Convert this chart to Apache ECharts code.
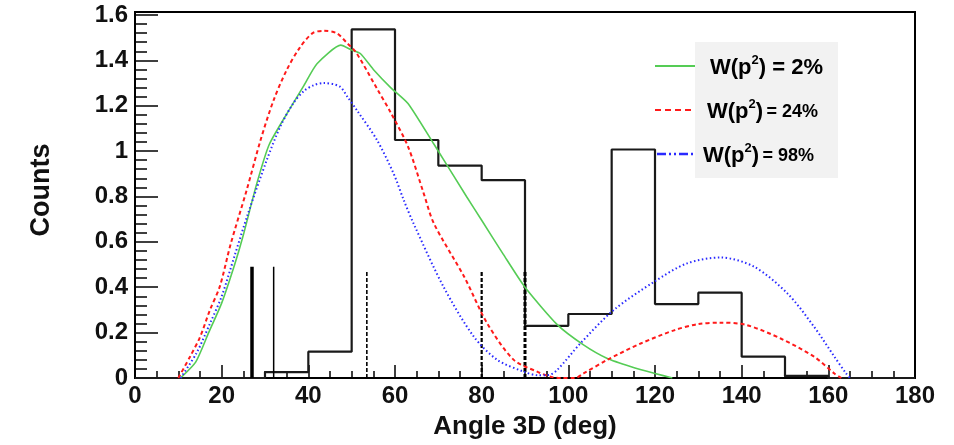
<!DOCTYPE html>
<html>
<head>
<meta charset="utf-8">
<script src="https://cdn.jsdelivr.net/npm/echarts@6/dist/echarts.min.js"></script>
<style>
html,body{margin:0;padding:0;background:#fff;}
#chart{width:954px;height:445px;}
</style>
</head>
<body>
<div id="chart"></div>
<script>
// ---- data ----
const binEdges = [0,10,20,30,40,50,60,70,80,90,100,110,120,130,140,150,160,170,180];
const histCounts = [0,0,0,0.026,0.116,1.536,1.049,0.936,0.872,0.23,0.282,1.007,0.326,0.376,0.094,0.009,0,0];

const curve2pct = [[10.5,0],[14,0.07],[17,0.2],[20,0.33],[23,0.5],[25,0.63],[28,0.85],[31,1.03],[36,1.195],[39,1.29],[42,1.385],[47.5,1.467],[50,1.445],[52,1.43],[55,1.36],[59,1.28],[63,1.21],[69,1.03],[76.5,0.80],[80,0.695],[85,0.545],[90,0.40],[97.5,0.234],[103.5,0.146],[109,0.086],[114.5,0.05],[120,0.02],[124,0]];

const curve24pct = [[10,0],[12.7,0.094],[15,0.18],[17.3,0.30],[19.6,0.405],[22,0.585],[25.8,0.83],[29,1.05],[32,1.225],[35,1.357],[38,1.455],[41,1.52],[43.5,1.53],[46.5,1.52],[49,1.475],[51,1.435],[56,1.27],[59,1.17],[63,1.02],[66.6,0.815],[69,0.68],[76,0.445],[81.3,0.24],[87.4,0.08],[92.8,0.028],[96,0.005],[98.5,0],[101.5,0],[103.5,0.02],[109,0.08],[116.7,0.152],[124.4,0.21],[130,0.238],[135,0.244],[141,0.234],[149,0.174],[156.7,0.094],[161.4,0.02],[163,0]];

const curve98pct = [[10.5,0],[14.2,0.11],[17.3,0.24],[20,0.36],[23,0.54],[26,0.72],[30.4,0.96],[33.5,1.107],[36.5,1.21],[39,1.265],[41.2,1.29],[43.5,1.30],[47.2,1.285],[49,1.24],[51.2,1.18],[55.8,1.05],[59.7,0.90],[62,0.785],[64.3,0.68],[71.2,0.402],[78.2,0.182],[83.6,0.08],[89.7,0.028],[93,0.012],[95.5,0.013],[97.4,0.035],[102.8,0.153],[110.5,0.30],[119.8,0.424],[127.4,0.505],[135.2,0.531],[142.9,0.49],[150.6,0.372],[156.7,0.226],[161.4,0.094],[164.1,0.02],[165,0]];

const solidMarkerX = [27, 32];
const solidMarkerHeight = 0.49;
const dashedMarkerX = [53.5, 80, 90];
const dashedMarkerHeight = 0.475;

const legendLabels = ['2%', '24%', '98%'];
const xTitle = 'Angle 3D (deg)';
const yTitle = 'Counts';
const yMax = 1.613;

// ---- build ----
const histData = [];
for (let i = 0; i < histCounts.length; i++) histData.push([binEdges[i], histCounts[i]]);
histData.push([binEdges[binEdges.length - 1], histCounts[histCounts.length - 1]]);

const FONT = 'Liberation Sans';
const series = [];
series.push({
  type: 'line', step: 'end', data: histData, showSymbol: false, silent: true,
  lineStyle: { color: '#1a1a1a', width: 2.2 }, z: 2
});
const solidWidths = [3.5, 1.5];
solidMarkerX.forEach((x, i) => series.push({
  type: 'line', data: [[x, 0], [x, solidMarkerHeight]], showSymbol: false, silent: true,
  lineStyle: { color: '#000', width: solidWidths[i] }, z: 3
}));
const dashedWidths = [1.6, 2.2, 3];
dashedMarkerX.forEach((x, i) => series.push({
  type: 'line', data: [[x, 0], [x, dashedMarkerHeight]], showSymbol: false, silent: true,
  lineStyle: { color: '#000', width: dashedWidths[i], type: [4, 2] }, z: 3
}));
series.push({
  type: 'line', data: curve2pct, showSymbol: false, smooth: 0.2, silent: true,
  lineStyle: { color: '#55cc55', width: 1.6 }, z: 4
});
series.push({
  type: 'line', data: curve24pct, showSymbol: false, smooth: 0.3, silent: true,
  lineStyle: { color: '#ff1a1a', width: 2, type: [4, 3] }, z: 4
});
series.push({
  type: 'line', data: curve98pct, showSymbol: false, smooth: 0.3, silent: true,
  lineStyle: { color: '#2a2aff', width: 2, type: [1.5, 2.5] }, z: 4
});

const richBase = {
  a: { fontFamily: FONT, fontWeight: 'bold', fontSize: 22, color: '#111' },
  b: { fontFamily: FONT, fontWeight: 'bold', fontSize: 18, color: '#111' },
  s: { fontFamily: FONT, fontWeight: 'bold', fontSize: 13, color: '#111', padding: [0, 0, 16, 0] }
};
const legendText = [
  '{a|W(p}{s|2}{a|) = ' + legendLabels[0] + '}',
  '{a|W(p}{s|2}{a|)} {b|= ' + legendLabels[1] + '}',
  '{a|W(p}{s|2}{a|)} {b|= ' + legendLabels[2] + '}'
];
const legendY = [68, 112, 156];
const legendX = [710, 707, 703];

const graphic = [
  { type: 'rect', shape: { x: 695, y: 42, width: 143, height: 136 }, style: { fill: '#f2f2f2' }, z: 10 },
  { type: 'line', shape: { x1: 655, y1: 66, x2: 695, y2: 66 }, style: { stroke: '#55cc55', lineWidth: 2 }, z: 11 },
  { type: 'line', shape: { x1: 655, y1: 110, x2: 694, y2: 110 }, style: { stroke: '#ff1a1a', lineWidth: 2, lineDash: [6, 4] }, z: 11 },
  { type: 'line', shape: { x1: 657, y1: 154, x2: 695, y2: 154 }, style: { stroke: '#2a2aff', lineWidth: 2.5, lineDash: [9, 3, 2, 3, 2, 3] }, z: 11 }
];
legendText.forEach((t, i) => graphic.push({
  type: 'text', x: legendX[i], y: legendY[i], z: 12,
  style: { text: t, rich: richBase, verticalAlign: 'middle', align: 'left' }
}));

const chart = echarts.init(document.getElementById('chart'), null, { renderer: 'canvas' });
chart.setOption({
  animation: false,
  backgroundColor: '#fff',
  grid: { left: 135, right: 39, top: 12, bottom: 67, show: true, borderColor: '#000', borderWidth: 2, backgroundColor: 'transparent' },
  xAxis: {
    type: 'value', min: 0, max: 180, interval: 20,
    name: xTitle, nameLocation: 'middle', nameGap: 36,
    nameTextStyle: { fontFamily: FONT, fontWeight: 'bold', fontSize: 26, color: '#111' },
    axisLine: { show: true, lineStyle: { color: '#000', width: 2 } },
    axisTick: { show: true, inside: true, length: 13, lineStyle: { color: '#000', width: 1.5 } },
    minorTick: { show: true, splitNumber: 4, length: 7, lineStyle: { color: '#000', width: 1.5 } },
    splitLine: { show: false },
    axisLabel: { fontFamily: FONT, fontWeight: 'bold', fontSize: 24, color: '#111', margin: 6 }
  },
  yAxis: [{
    type: 'value', min: 0, max: yMax, interval: 0.2,
    name: yTitle, nameLocation: 'middle', nameGap: 80,
    nameTextStyle: { fontFamily: FONT, fontWeight: 'bold', fontSize: 27, color: '#111', padding: [0, 0, 0, 10] },
    axisLine: { show: true, lineStyle: { color: '#000', width: 2 } },
    axisTick: { show: true, inside: true, length: 23, lineStyle: { color: '#000', width: 1.5 } },
    splitLine: { show: false },
    axisLabel: {
      fontFamily: FONT, fontWeight: 'bold', fontSize: 24, color: '#111', margin: 7,
      formatter: function (v) {
        const r = Math.round(v * 5);
        if (Math.abs(v * 5 - r) > 1e-6) return '';
        return String(Math.round(v * 10) / 10);
      }
    }
  }, {
    type: 'value', min: 0, max: yMax, interval: 0.04, position: 'left',
    axisLine: { show: false },
    axisTick: { show: true, inside: true, length: 12, lineStyle: { color: '#000', width: 1.5 } },
    splitLine: { show: false },
    axisLabel: { show: false }
  }],
  series: series,
  graphic: graphic
});
</script>
</body>
</html>
